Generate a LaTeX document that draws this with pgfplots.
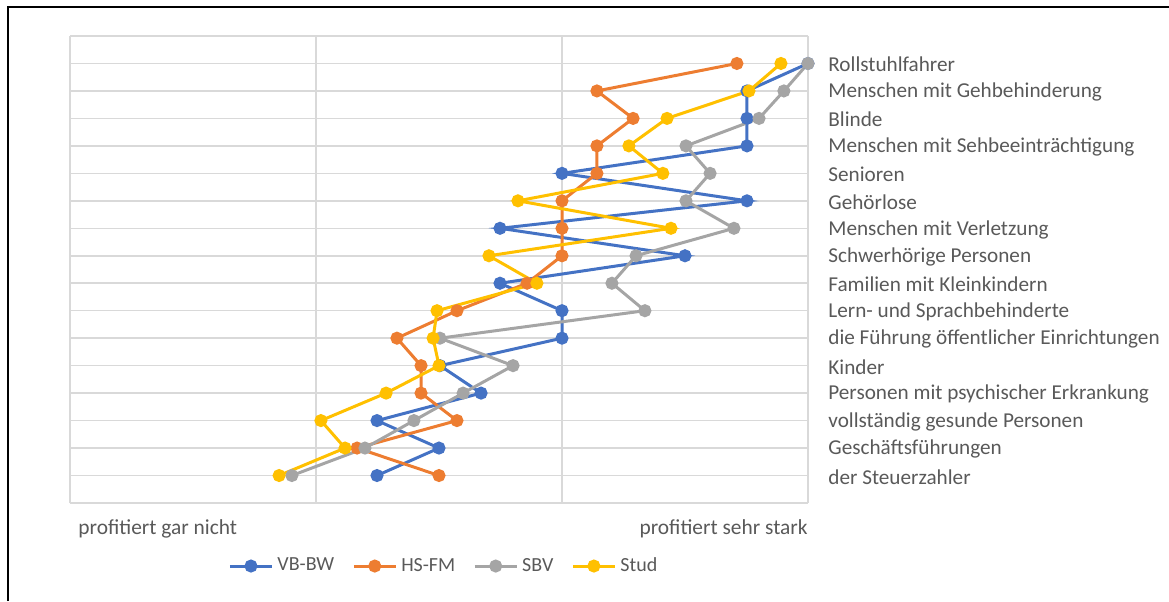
\documentclass[border=0pt]{standalone}
\usepackage{fontspec}
\setmainfont{Carlito}
\usepackage{pgfplots}
\pgfplotsset{compat=1.18}
\definecolor{cblue}{HTML}{4472C4}
\definecolor{corange}{HTML}{ED7D31}
\definecolor{cgray}{HTML}{A5A5A5}
\definecolor{cyellow}{HTML}{FFC000}
\definecolor{gridc}{HTML}{D9D9D9}
\definecolor{txt}{HTML}{595959}

\begin{document}
\begin{tikzpicture}
\useasboundingbox (0pt,0pt) rectangle (584.5pt,300.5pt);
\draw[black,line width=1pt] (4pt,0pt) -- (4pt,297pt) -- (584.5pt,297pt);
\begin{axis}[
  at={(35pt,49pt)}, anchor=south west,
  scale only axis, width=369pt, height=233.5pt,
  xmin=0, xmax=3, ymin=0, ymax=17,
  xtick={0,1,2,3}, xticklabels={},
  ytick={0,...,17},
  yticklabels={,der Steuerzahler,Geschäftsführungen,vollständig gesunde Personen,Personen mit psychischer Erkrankung,Kinder,die Führung öffentlicher Einrichtungen,Lern- und Sprachbehinderte,Familien mit Kleinkindern,Schwerhörige Personen,Menschen mit Verletzung,Gehörlose,Senioren,Menschen mit Sehbeeinträchtigung,Blinde,Menschen mit Gehbehinderung,Rollstuhlfahrer,},
  yticklabel pos=right,
  yticklabel style={anchor=west, inner sep=0pt, xshift=10pt, yshift=-0.6pt, font=\fontsize{10.6pt}{12pt}\selectfont, text=txt},
  major tick length=0pt,
  grid=major,
  grid style={gridc, line width=0.75pt},
  axis line style={draw=none},
  clip=false,
  every axis plot/.append style={line width=1.5pt, mark=*, mark size=2.5pt},
  legend columns=4,
  legend style={at={(0.508,-0.135)}, anchor=center, draw=none, fill=none,
    font=\fontsize{10pt}{12pt}\selectfont, text=txt,
    /tikz/every even column/.append style={column sep=7pt}},
  legend image code/.code={\draw[mark repeat=2,mark phase=2] plot coordinates {(0pt,0pt) (10.5pt,0pt) (21pt,0pt)};},
]
\addplot[cblue, mark options={fill=cblue}] coordinates {
(3.000,16) (2.752,15) (2.752,14) (2.752,13) (2.000,12) (2.752,11) (1.748,10) (2.500,9)
(1.748,8) (2.000,7) (2.000,6) (1.504,5) (1.671,4) (1.248,3) (1.500,2) (1.248,1)};
\addlegendentry{VB-BW}
\addplot[corange, mark options={fill=corange}] coordinates {
(2.711,16) (2.142,15) (2.289,14) (2.142,13) (2.142,12) (2.000,11) (2.000,10) (2.000,9)
(1.858,8) (1.573,7) (1.329,6) (1.427,5) (1.427,4) (1.573,3) (1.167,2) (1.500,1)};
\addlegendentry{HS-FM}
\addplot[cgray, mark options={fill=cgray}] coordinates {
(3.000,16) (2.902,15) (2.801,14) (2.504,13) (2.602,12) (2.504,11) (2.699,10) (2.301,9)
(2.203,8) (2.337,7) (1.504,6) (1.801,5) (1.598,4) (1.398,3) (1.199,2) (0.902,1)};
\addlegendentry{SBV}
\addplot[cyellow, mark options={fill=cyellow}] coordinates {
(2.890,16) (2.760,15) (2.427,14) (2.272,13) (2.410,12) (1.821,11) (2.443,10) (1.703,9)
(1.898,8) (1.492,7) (1.476,6) (1.500,5) (1.285,4) (1.020,3) (1.118,2) (0.850,1)};
\addlegendentry{Stud}
\end{axis}
\node[anchor=west, inner sep=0pt, text=txt, font=\fontsize{10.7pt}{12pt}\selectfont] at (39pt,36pt) {profitiert gar nicht};
\node[anchor=east, inner sep=0pt, text=txt, font=\fontsize{10.7pt}{12pt}\selectfont] at (404pt,36pt) {profitiert sehr stark};
\end{tikzpicture}
\end{document}
